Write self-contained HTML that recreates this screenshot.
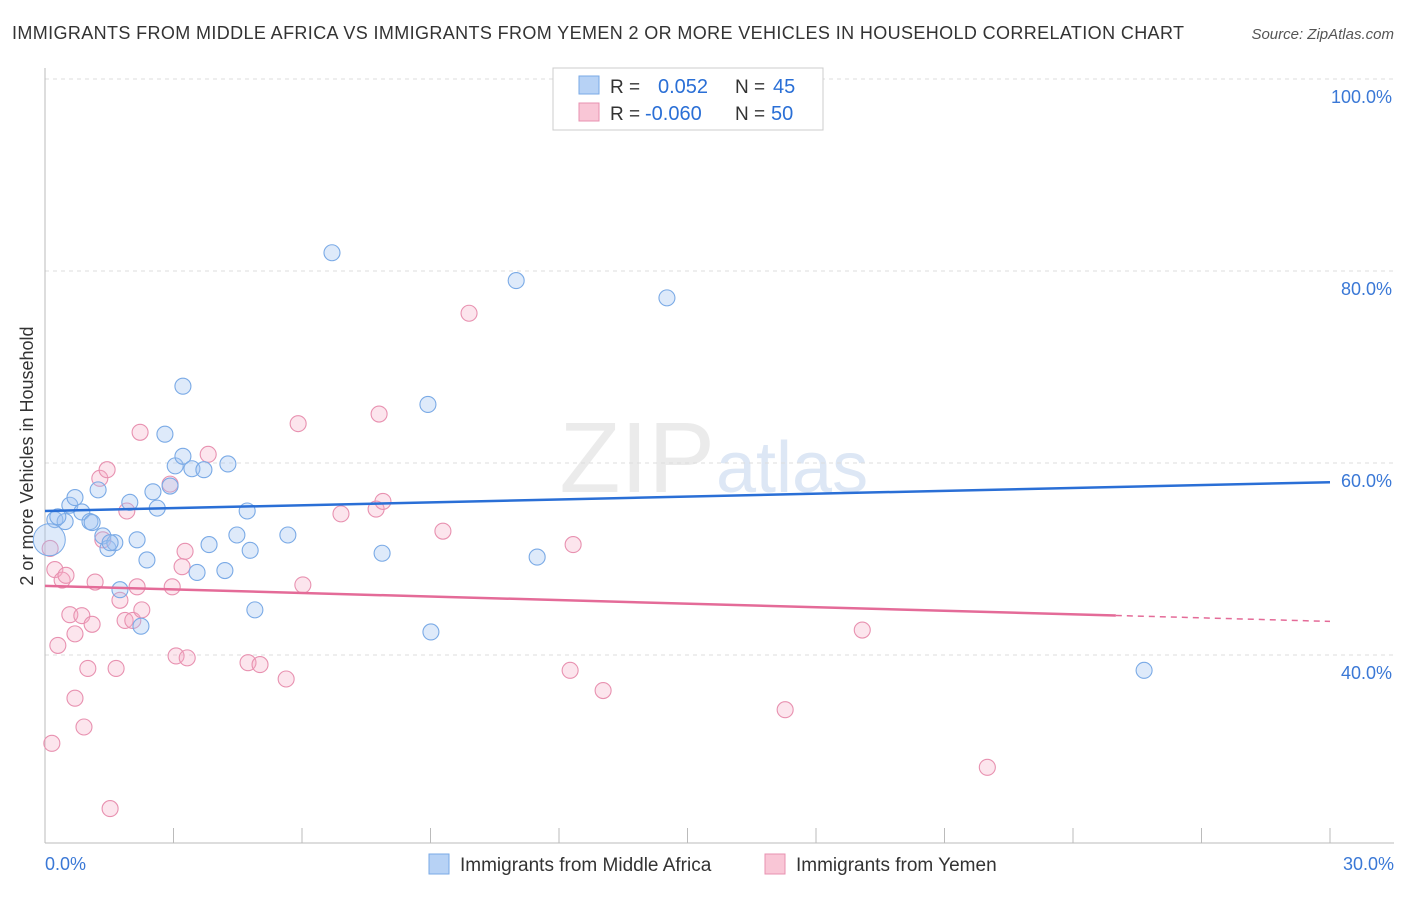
<!DOCTYPE html>
<html><head><meta charset="utf-8"><style>
body{margin:0;background:#fff;font-family:"Liberation Sans",sans-serif}
svg text{font-family:"Liberation Sans",sans-serif}
</style></head><body>
<svg id="c" width="1406" height="892">
<text x="12" y="39" font-size="18" fill="#333" textLength="1172" lengthAdjust="spacing">IMMIGRANTS FROM MIDDLE AFRICA VS IMMIGRANTS FROM YEMEN 2 OR MORE VEHICLES IN HOUSEHOLD CORRELATION CHART</text>
<text x="1394" y="39" font-size="15" fill="#555" font-style="italic" text-anchor="end">Source: ZipAtlas.com</text>
<text x="33" y="456" font-size="18" fill="#333" text-anchor="middle" transform="rotate(-90 33 456)">2 or more Vehicles in Household</text>
<text x="715" y="492" font-size="100" fill="#ebebeb" text-anchor="end" font-family="Liberation Serif">ZIP</text>
<text x="716" y="492" font-size="72" fill="#dde7f5">atlas</text>
<g id="grid"></g><g id="marks"></g>
<g>
<rect x="553" y="68" width="270" height="62" fill="#fff" stroke="#ccc"/>
<rect x="579" y="76" width="20" height="18" fill="#b7d2f5" stroke="#7aaae6"/>
<rect x="579" y="103" width="20" height="18" fill="#f9c6d6" stroke="#e891b0"/>
<text x="610" y="93" font-size="19" fill="#333">R =</text><text x="658" y="93" font-size="20" fill="#2a6fd6">0.052</text>
<text x="735" y="93" font-size="19" fill="#333">N =</text><text x="773" y="93" font-size="20" fill="#2a6fd6">45</text>
<text x="610" y="120" font-size="19" fill="#333">R =</text><text x="645" y="120" font-size="20" fill="#2a6fd6">-0.060</text>
<text x="735" y="120" font-size="19" fill="#333">N =</text><text x="771" y="120" font-size="20" fill="#2a6fd6">50</text>
</g>
<g>
<rect x="429" y="854" width="20" height="20" fill="#b7d2f5" stroke="#7aaae6"/>
<text x="460" y="871" font-size="19" fill="#333">Immigrants from Middle Africa</text>
<rect x="765" y="854" width="20" height="20" fill="#f9c6d6" stroke="#e891b0"/>
<text x="796" y="871" font-size="19" fill="#333">Immigrants from Yemen</text>
</g>
<text x="45" y="870" font-size="18" fill="#3a78d6">0.0%</text>
<text x="1394" y="870" font-size="18" fill="#3a78d6" text-anchor="end">30.0%</text>
</svg>
<script>
const yTicks=[40,60,80,100];
const xTicks=[0,3,6,9,12,15,18,21,24,27,30];
const blueX=[0.23,0.47,0.30,0.58,0.70,0.86,1.05,1.10,1.24,1.35,1.47,1.63,1.75,1.98,2.15,2.24,2.38,2.52,2.62,2.80,2.92,3.04,3.22,3.22,3.43,3.55,3.71,3.83,4.20,4.27,4.48,4.72,4.79,4.90,5.67,6.70,7.87,8.94,9.01,11.0,11.49,14.52,25.66,1.52];
const blueY=[54.1,53.9,54.4,55.6,56.4,54.9,53.9,53.8,57.2,52.4,51.1,51.7,46.8,55.9,52.0,43.0,49.9,57.0,55.3,63.0,57.6,59.7,68.0,60.7,59.4,48.6,59.3,51.5,48.8,59.9,52.5,55.0,50.9,44.7,52.5,81.9,50.6,66.1,42.4,79.0,50.2,77.2,38.4,51.7];
const pinkX=[0.12,0.16,0.23,0.30,0.40,0.49,0.58,0.70,0.70,0.86,0.91,1.00,1.10,1.17,1.28,1.45,1.35,1.52,1.66,1.75,1.87,1.91,2.05,2.15,2.26,2.22,2.92,2.97,3.06,3.20,3.27,3.32,3.81,4.74,5.02,5.63,5.91,6.02,6.91,7.73,7.80,7.89,9.29,9.90,12.26,12.33,13.03,17.28,19.08,22.0];
const pinkY=[51.1,30.8,48.9,41.0,47.8,48.3,44.2,42.2,35.5,44.1,32.5,38.6,43.2,47.6,58.4,59.3,52.0,24.0,38.6,45.7,43.6,55.0,43.6,47.1,44.7,63.2,57.8,47.1,39.9,49.2,50.8,39.7,60.9,39.2,39.0,37.5,64.1,47.3,54.7,55.2,65.1,56.0,52.9,75.6,38.4,51.5,36.3,34.3,42.6,28.3];
const blueTrend=[55.0,58.0];
const pinkTrend=[47.2,43.5];
const NS="http://www.w3.org/2000/svg";
const X=v=>45+v*1285/30, Y=v=>1039-v*9.6;
function mk(t,a,p){const e=document.createElementNS(NS,t);for(const k in a)e.setAttribute(k,a[k]);p.appendChild(e);return e;}
const g=document.getElementById('grid'),m=document.getElementById('marks');
yTicks.forEach(t=>{const l=mk('line',{x1:45,x2:1394,y1:Y(t),y2:Y(t),stroke:'#ddd','stroke-dasharray':'4 4'},g);


const tx=mk('text',{x:1392,y:Y(t)+24,'font-size':18,fill:'#3a78d6','text-anchor':'end'},g);tx.textContent=t.toFixed(1)+'%';

});
mk('line',{x1:45,x2:45,y1:68,y2:843,stroke:'#bbb'},g);
mk('line',{x1:45,x2:1394,y1:843,y2:843,stroke:'#bbb'},g);
xTicks.forEach(t=>{const l=mk('line',{x1:X(t),x2:X(t),y1:828,y2:843,stroke:'#bbb'},g);

});
function pts(xs,ys,fill,stroke,name){xs.forEach((x,i)=>{const c=mk('circle',{cx:X(x),cy:Y(ys[i]),r:8,fill:fill,stroke:stroke,'stroke-width':1.1},m);

});}
pts(pinkX,pinkY,'rgba(245,170,195,0.3)','#e891b0','yemen-point');
pts(blueX,blueY,'rgba(160,196,240,0.35)','#7aaae6','middle-africa-point');
const big=mk('circle',{cx:X(0.1),cy:Y(52.0),r:16,fill:'rgba(160,196,240,0.35)',stroke:'#7aaae6'},m);


const bl=mk('line',{x1:X(0),y1:Y(blueTrend[0]),x2:X(30),y2:Y(blueTrend[1]),stroke:'#2a6fd6','stroke-width':2.5},m);


const pm=pinkTrend[0]+(pinkTrend[1]-pinkTrend[0])*25/30;
const pl=mk('line',{x1:X(0),y1:Y(pinkTrend[0]),x2:X(25),y2:Y(pm),stroke:'#e46b98','stroke-width':2.5},m);


const pd=mk('line',{x1:X(25),y1:Y(pm),x2:X(30),y2:Y(pinkTrend[1]),stroke:'#e46b98','stroke-width':1.5,'stroke-dasharray':'6 5'},m);


</script>
</body></html>
